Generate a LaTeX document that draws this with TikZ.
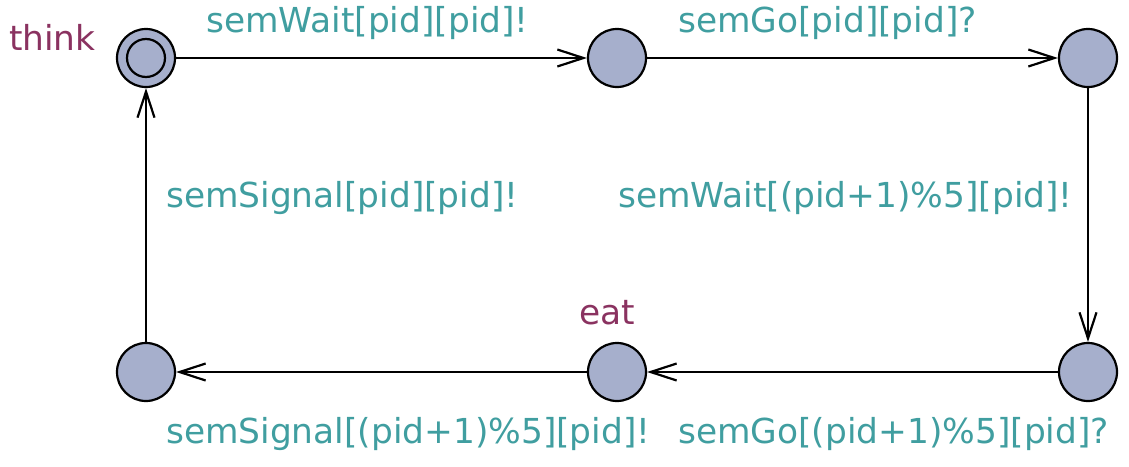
\documentclass[tikz,border=0pt]{standalone}
\usepackage{fontspec}
\setmainfont{DejaVu Sans}
\usetikzlibrary{arrows.meta}
\definecolor{chanc}{RGB}{64,158,160}
\definecolor{locc}{RGB}{138,50,96}
\definecolor{statec}{RGB}{166,175,204}
\begin{document}
\begin{tikzpicture}[x=1pt, y=-1pt, line width=2.2pt, >={Straight Barb[length=26pt,width=17pt,line width=2.2pt]}]
	\tikzset{state/.style={circle, draw, fill=statec, minimum size=58pt, inner sep=0pt},
		sync/.style={text=chanc, font=\fontsize{34.4}{40}\selectfont, anchor=base west, inner sep=0pt},
		loc/.style={text=locc, font=\fontsize{34.4}{40}\selectfont, anchor=base west, inner sep=0pt}}
	\useasboundingbox (0,0) rectangle (1129,466);
	\node[state] (think) at (146,58) {};
	\draw (think) circle (19pt);
	\node[state] (w1) at (617,58) {};
	\node[state] (w2) at (1088,58) {};
	\node[state] (w3) at (1088,372) {};
	\node[state] (eat) at (617,372) {};
	\node[state] (w4) at (146,372) {};
	\node[loc] at (8,50) {think};
	\node[loc] at (578,324) {eat};
	\draw[->] (think) -- (w1);
	\draw[->] (w1) -- (w2);
	\draw[->] (w2) -- (w3);
	\draw[->] (w3) -- (eat);
	\draw[->] (eat) -- (w4);
	\draw[->] (w4) -- (think);
	\node[sync] at (205,32) {semWait[pid][pid]!};
	\node[sync] at (677,32) {semGo[pid][pid]?};
	\node[sync] at (617,207) {semWait[(pid+1)\%5][pid]!};
	\node[sync] at (165,207) {semSignal[pid][pid]!};
	\node[sync] at (165,443) {semSignal[(pid+1)\%5][pid]!};
	\node[sync] at (677,443) {semGo[(pid+1)\%5][pid]?};
\end{tikzpicture}
\end{document}
